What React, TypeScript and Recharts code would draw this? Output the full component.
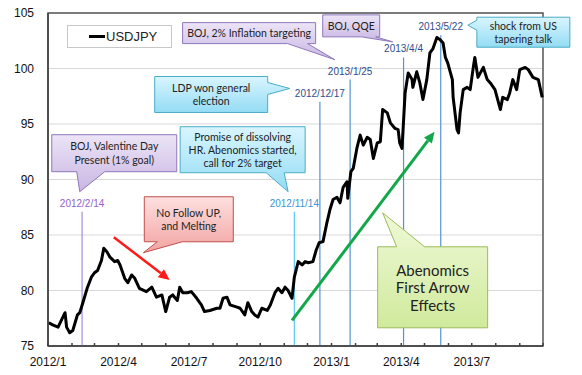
import React from "react";
import {CartesianGrid, Legend, Line, LineChart, ReferenceArea, ReferenceDot, ReferenceLine, XAxis, YAxis} from "recharts";

// USDJPY (roughly every few trading days)
const dates = [
  "2012-01-02", "2012-01-07", "2012-01-14", "2012-01-23", "2012-01-25", "2012-01-29", "2012-02-02", "2012-02-08",
  "2012-02-11", "2012-02-15", "2012-02-21", "2012-02-26", "2012-03-01", "2012-03-05", "2012-03-10", "2012-03-13",
  "2012-03-17", "2012-03-21", "2012-03-27", "2012-03-31", "2012-04-03", "2012-04-09", "2012-04-13", "2012-04-18",
  "2012-04-22", "2012-04-28", "2012-05-07", "2012-05-14", "2012-05-20", "2012-05-27", "2012-06-01", "2012-06-06",
  "2012-06-10", "2012-06-16", "2012-06-19", "2012-06-23", "2012-06-29", "2012-07-04", "2012-07-11", "2012-07-17",
  "2012-07-21", "2012-07-28", "2012-08-06", "2012-08-10", "2012-08-14", "2012-08-19", "2012-08-23", "2012-09-01",
  "2012-09-05", "2012-09-11", "2012-09-15", "2012-09-20", "2012-09-24", "2012-09-28", "2012-10-03", "2012-10-10",
  "2012-10-14", "2012-10-20", "2012-10-24", "2012-10-29", "2012-11-02", "2012-11-06", "2012-11-11", "2012-11-14",
  "2012-11-19", "2012-11-24", "2012-11-28", "2012-12-02", "2012-12-08", "2012-12-12", "2012-12-16", "2012-12-21",
  "2012-12-26", "2012-12-30", "2013-01-03", "2013-01-08", "2013-01-12", "2013-01-16", "2013-01-21", "2013-01-22",
  "2013-01-26", "2013-01-29", "2013-02-03", "2013-02-07", "2013-02-11", "2013-02-16", "2013-02-20", "2013-02-24",
  "2013-03-01", "2013-03-05", "2013-03-08", "2013-03-14", "2013-03-18", "2013-03-24", "2013-03-28", "2013-03-30",
  "2013-04-02", "2013-04-06", "2013-04-10", "2013-04-15", "2013-04-16", "2013-04-21", "2013-04-25", "2013-04-29",
  "2013-05-04", "2013-05-08", "2013-05-12", "2013-05-17", "2013-05-21", "2013-05-25", "2013-05-28", "2013-05-31",
  "2013-06-06", "2013-06-07", "2013-06-12", "2013-06-14", "2013-06-16", "2013-06-20", "2013-06-25", "2013-06-29",
  "2013-07-03", "2013-07-05", "2013-07-09", "2013-07-16", "2013-07-21", "2013-07-25", "2013-07-31", "2013-08-07",
  "2013-08-10", "2013-08-16", "2013-08-19", "2013-08-23", "2013-08-28", "2013-09-01", "2013-09-08", "2013-09-12",
  "2013-09-18", "2013-09-25", "2013-09-30",
];
const usdjpy = [
  77.1, 76.9, 76.7, 78.0, 76.7, 76.2, 76.4, 77.8,
  78.0, 78.9, 80.3, 81.2, 81.6, 81.8, 82.7, 83.8,
  83.5, 83.0, 82.6, 82.7, 82.3, 81.1, 80.7, 81.4,
  81.1, 80.2, 79.9, 80.3, 79.4, 79.6, 78.1, 79.4,
  79.6, 79.1, 80.3, 79.8, 79.8, 79.9, 79.3, 78.7,
  78.1, 78.2, 78.4, 78.4, 79.3, 79.4, 78.7, 78.5,
  78.4, 77.8, 78.9, 78.1, 77.8, 77.6, 78.4, 78.2,
  78.7, 79.8, 80.2, 79.8, 80.3, 80.0, 79.3, 81.2,
  82.6, 82.3, 82.6, 82.5, 82.6, 83.6, 84.3, 84.4,
  86.1, 87.3, 88.2, 88.4, 87.9, 89.3, 89.8, 88.3,
  90.7, 91.0, 92.9, 94.0, 93.1, 93.8, 93.6, 91.9,
  93.3, 93.4, 96.3, 96.0, 95.1, 94.6, 94.5, 93.3,
  92.8, 97.8, 99.6, 99.0, 98.3, 99.7, 98.7, 97.2,
  99.0, 101.4, 101.8, 102.8, 102.6, 102.3, 101.0, 100.5,
  99.0, 97.4, 94.5, 94.2, 96.0, 98.1, 98.3, 98.1,
  100.1, 101.0, 99.2, 100.1, 99.0, 98.7, 98.1, 96.3,
  97.4, 97.2, 97.8, 99.0, 98.1, 99.9, 100.1, 99.9,
  99.2, 99.0, 97.4,
];

const months = [
  "2012-01", "2012-02", "2012-03", "2012-04", "2012-05", "2012-06", "2012-07", "2012-08", "2012-09", "2012-10",
  "2012-11", "2012-12", "2013-01", "2013-02", "2013-03", "2013-04", "2013-05", "2013-06", "2013-07", "2013-08",
  "2013-09", "2013-10",
];
const yTicks = [75, 80, 85, 90, 95, 100, 105];

const ts = (s: string) => {
  const [y, m, d] = s.split("-").map(Number);
  return Date.UTC(y, m - 1, d || 1);
};

const data = dates.map((d, i) => ({t: ts(d), v: usdjpy[i]}));
const monthTicks = months.map(ts);
const t0 = monthTicks[0];
const t1 = monthTicks[monthTicks.length - 1];

const fmtTick = (t: number) => {
  if (t >= t1) return "";
  const d = new Date(t);
  const m = d.getUTCMonth();
  return m % 3 === 0 ? `${d.getUTCFullYear()}/${m + 1}` : "";
};

// event lines: date, label, where the line starts (value), colours
const events = [
  {date: "2012-02-14", label: "2012/2/14", top: 87.1, line: "#a98bd6", text: "#9462c9"},
  {date: "2012-11-14", label: "2012/11/14", top: 87.1, line: "#5cc8ef", text: "#3b95d6"},
  {date: "2012-12-17", label: "2012/12/17", top: 97.0, line: "#5593d8", text: "#2f4d8c"},
  {date: "2013-01-25", label: "2013/1/25", top: 99.0, line: "#5593d8", text: "#2f4d8c"},
  {date: "2013-04-04", label: "2013/4/4", top: 101.0, line: "#5593d8", text: "#2f4d8c"},
  {date: "2013-05-22", label: "2013/5/22", top: 103.0, line: "#5593d8", text: "#2f4d8c"},
];

const themes: Record<string, {top: string; bottom: string; stroke: string}> = {
  purple: {top: "#ece4f6", bottom: "#c9b6e3", stroke: "#8f77bd"},
  cyan: {top: "#d9f5ff", bottom: "#94dcf4", stroke: "#4bacc6"},
  red: {top: "#fde0df", bottom: "#f2a3a1", stroke: "#c0504d"},
  green: {top: "#f0f9d8", bottom: "#d0ea9c", stroke: "#9bbb59"},
};

// callouts: tip in data space, box/tail relative to the tip in px
const callouts = [
  {id: "c1", lines: ["BOJ, 2% Inflation targeting"], tip: ["2013-01-05", 100.8], box: [-152, -37, 133, 21],
    tail: {side: "bottom", a: -47, b: -27}, theme: "purple", size: 10.5, lh: 13},
  {id: "c2", lines: ["BOJ, QQE"], tip: ["2013-03-21", 102.4], box: [-70, -27, 57, 22],
    tail: {side: "bottom", a: -31, b: -17}, theme: "purple", size: 10.5, lh: 13},
  {id: "c3", lines: ["shock from US", "tapering talk"], tip: ["2013-06-26", 103.9], box: [9, -8, 93, 30],
    tail: {side: "left", a: -5, b: 5}, theme: "cyan", size: 10.5, lh: 13},
  {id: "c4", lines: ["LDP won general", "election"], tip: ["2012-11-08", 98.2], box: [-135, -12, 113, 36],
    tail: {side: "right", a: -6, b: 6}, theme: "cyan", size: 10.5, lh: 13},
  {id: "c5", lines: ["BOJ, Valentine Day", "Present (1% goal)"], tip: ["2012-02-11", 88.9], box: [-28, -57, 125, 37],
    tail: {side: "bottom", a: -3, b: 25}, theme: "purple", size: 10.5, lh: 13.5},
  {id: "c6", lines: ["Promise of dissolving", "HR. Abenomics started,", "call for 2% target"], tip: ["2012-11-06", 88.9],
    box: [-108, -65, 125, 46], tail: {side: "bottom", a: -22, b: -4}, theme: "cyan", size: 10.5, lh: 13},
  {id: "c7", lines: ["No Follow UP,", "and Melting"], tip: ["2012-05-03", 83.4], box: [1, -56, 89, 45],
    tail: {side: "bottom", a: 14, b: 39}, theme: "red", size: 10.5, lh: 13},
  {id: "c8", lines: ["Abenomics", "First Arrow", "Effects"], tip: ["2013-03-08", 87.0], box: [-5, 34, 110, 81],
    tail: {side: "top", a: 14, b: 42}, theme: "green", size: 15, lh: 17.5},
];

const arrows = [
  {from: ["2012-03-26", 84.8], to: ["2012-06-06", 80.95], color: "#ff1a1a", width: 2.5},
  {from: ["2012-11-11", 77.3], to: ["2013-05-14", 94.3], color: "#12a84a", width: 3},
];

const calloutPath = (bx: number, by: number, w: number, h: number, tail: any, tx: number, ty: number) => {
  const r = bx + w, b = by + h;
  const pts: number[][] = [[bx, by]];
  if (tail.side === "top") pts.push([tx + tail.a, by], [tx, ty], [tx + tail.b, by]);
  pts.push([r, by]);
  if (tail.side === "right") pts.push([r, ty + tail.a], [tx, ty], [r, ty + tail.b]);
  pts.push([r, b]);
  if (tail.side === "bottom") pts.push([tx + tail.b, b], [tx, ty], [tx + tail.a, b]);
  pts.push([bx, b]);
  if (tail.side === "left") pts.push([bx, ty + tail.b], [tx, ty], [bx, ty + tail.a]);
  return "M" + pts.map(p => p.join(",")).join("L") + "Z";
};

const Callout = (c: any) => (props: any) => {
  const {cx, cy} = props;
  const [dx, dy, w, h] = c.box;
  const bx = cx + dx, by = cy + dy;
  const th = themes[c.theme];
  const n = c.lines.length;
  return (
    <g>
      <defs>
        <linearGradient id={`g-${c.id}`} x1="0" y1="0" x2="0" y2="1">
          <stop offset="0%" stopColor={th.top}/>
          <stop offset="100%" stopColor={th.bottom}/>
        </linearGradient>
      </defs>
      <path d={calloutPath(bx, by, w, h, c.tail, cx, cy)} fill={`url(#g-${c.id})`} stroke={th.stroke} strokeWidth={1}/>
      {c.lines.map((s: string, i: number) => (
        <text key={i} x={bx + w / 2} y={by + h / 2 + (i - (n - 1) / 2) * c.lh} textAnchor="middle"
              dominantBaseline="central" fontFamily="Lato, 'Noto Sans', sans-serif" fontSize={c.size} fill="#222">
          {s}
        </text>
      ))}
    </g>
  );
};

const Arrow = (a: any) => (props: any) => {
  const {x1, y1, x2, y2} = props;
  const ang = Math.atan2(y2 - y1, x2 - x1);
  const L = 11, W = 5;
  const bxp = x2 - L * Math.cos(ang), byp = y2 - L * Math.sin(ang);
  const nx = -Math.sin(ang) * W, ny = Math.cos(ang) * W;
  return (
    <g>
      <line x1={x1} y1={y1} x2={bxp} y2={byp} stroke={a.color} strokeWidth={a.width}/>
      <path d={`M${x2},${y2}L${bxp + nx},${byp + ny}L${bxp - nx},${byp - ny}Z`} fill={a.color}/>
    </g>
  );
};

const LegendBox = () => (
  <div style={{width: 105, height: 23, boxSizing: "border-box", background: "#fff", border: "1px solid #c8c8c8",
    display: "flex", alignItems: "center", fontFamily: "'Liberation Sans', Arial, sans-serif", fontSize: 13, color: "#222"}}>
    <span style={{display: "inline-block", width: 16, height: 3, background: "#000", marginLeft: 21, marginRight: 1}}/>
    <span>USDJPY</span>
  </div>
);

export default function App() {
  return (
    <div style={{position: "absolute", left: 0, top: 0}}>
      <LineChart width={582} height={375} data={data} margin={{top: 13, right: 39, left: 0, bottom: 0}}>
        <CartesianGrid vertical={false} stroke="#d9d9d9"/>
        <XAxis dataKey="t" type="number" domain={[t0, t1]} ticks={monthTicks} interval={0} tickFormatter={fmtTick}
               height={29} tickSize={-3} tickMargin={14} stroke="#404040" strokeWidth={1.5}
               tick={{fill: "#111", fontSize: 12, fontFamily: "'Liberation Sans', Arial, sans-serif"}}/>
        <YAxis domain={[75, 105]} ticks={yTicks} width={48} tickLine={false} tickMargin={8} stroke="#404040" strokeWidth={1.5}
               tick={{fill: "#111", fontSize: 12, fontFamily: "'Liberation Sans', Arial, sans-serif"}}/>
        <ReferenceArea x1={t0} x2={t1} y1={75} y2={105} fill="none" stroke="#555" strokeWidth={1.5} ifOverflow="visible"/>
        {events.map(e => (
          <ReferenceLine key={e.date} segment={[{x: ts(e.date), y: e.top}, {x: ts(e.date), y: 75}]} stroke={e.line}
                         strokeWidth={1.2} zIndex={100}
                         label={{value: e.label, position: "top", offset: 5, fill: e.text, fontSize: 10,
                           fontFamily: "'Liberation Sans', Arial, sans-serif"}}/>
        ))}
        <Line type="linear" dataKey="v" name="USDJPY" stroke="#000" strokeWidth={3} dot={false}
              strokeLinejoin="round" isAnimationActive={false}/>
        {arrows.map((a, i) => (
          <ReferenceLine key={i} segment={[{x: ts(a.from[0] as string), y: a.from[1] as number},
            {x: ts(a.to[0] as string), y: a.to[1] as number}]} shape={Arrow(a)} ifOverflow="visible"/>
        ))}
        {callouts.map(c => (
          <ReferenceDot key={c.id} x={ts(c.tip[0] as string)} y={c.tip[1] as number} r={0} ifOverflow="visible"
                        shape={Callout(c)}/>
        ))}
        <Legend layout="vertical" align="center" verticalAlign="middle" content={LegendBox}
                wrapperStyle={{left: 67, top: 25, width: 105, height: 23}}/>
      </LineChart>
    </div>
  );
}
